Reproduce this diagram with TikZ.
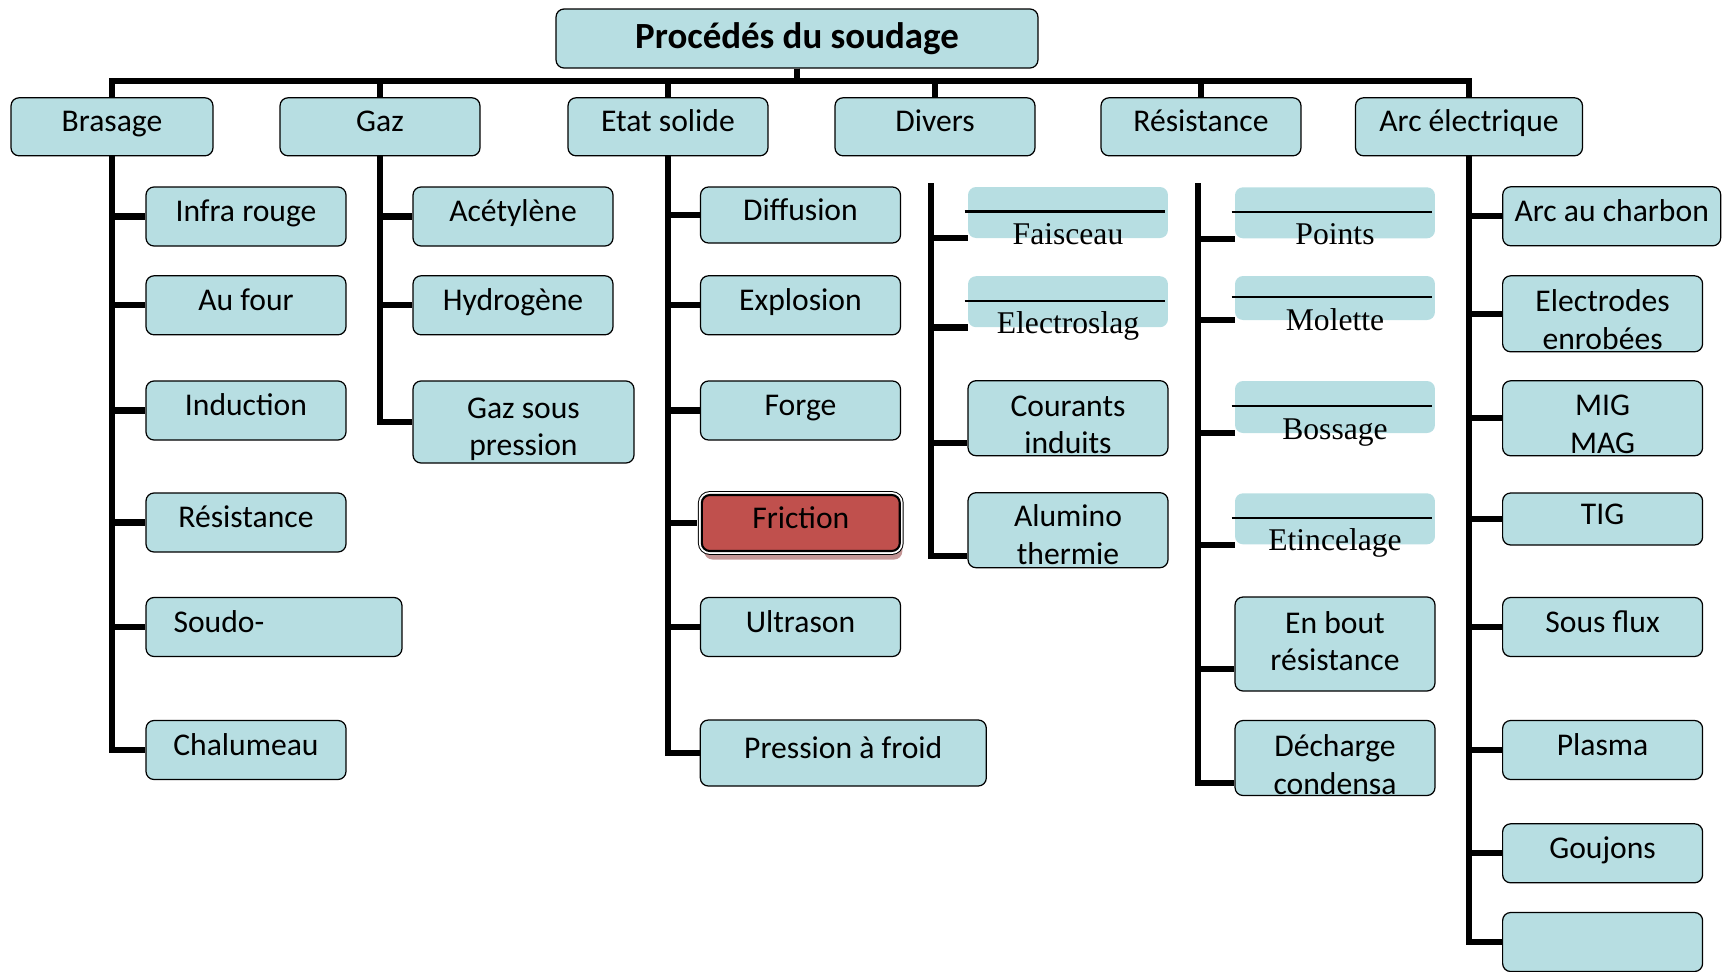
\documentclass[tikz,border=0pt]{standalone}
\usepackage{fontspec}
\setmainfont{Carlito}
\newfontfamily\tnr{Liberation Serif}
\usetikzlibrary{calc,shadows}
\definecolor{boxfill}{RGB}{183,222,226}
\definecolor{fricfill}{RGB}{192,80,77}
\definecolor{fricshadow}{RGB}{196,150,150}
\tikzset{
  box/.style={draw=black, line width=0.7pt, fill=boxfill, rounded corners=0.16cm,
    inner sep=0pt, minimum width=4cm, minimum height=1.18cm,
    text height=0.5cm, text depth=0.3cm, font=\fontsize{18}{21.5}\selectfont},
  titlebox/.style={box, minimum width=9.64cm, text height=0.6cm, text depth=0.2cm,
    font=\bfseries\fontsize{21}{25}\selectfont},
  bare/.style={fill=boxfill, rounded corners=0.16cm, inner sep=0pt, minimum width=4cm},
  rule/.style={line width=1.3pt},
  serif/.style={font=\tnr\fontsize{18}{21.5}\selectfont, inner sep=0pt},
  conn/.style={line width=3.5pt},
  fric/.style={box, fill=fricfill, line width=1.2pt,
    drop shadow={shadow xshift=0.05cm, shadow yshift=-0.17cm, fill=fricshadow, opacity=1},
    preaction={draw=black, line width=4.4pt},
    preaction={draw=white, line width=3.3pt}}
}
\newcommand{\deux}[3][0.16cm]{\raisebox{#1}[0pt][0pt]{\begin{tabular}[t]{@{}c@{}}#2\\#3\end{tabular}}}
\newcommand{\barebox}[5]{%
  \node[bare, minimum height=#4*0.02cm] (#1) at (#2,#3) {};
  \draw[rule] ([xshift=-0.06cm,yshift=0.02cm]#1.west) -- ([xshift=-0.06cm,yshift=0.02cm]#1.east);
  \node[serif, anchor=base] (#1t) at ([yshift=-0.64cm]#1.center) {#5};}

\begin{document}
\begin{tikzpicture}[x=0.02cm, y=-0.02cm]
    \useasboundingbox (0,0) rectangle (1722,971);
    \clip (0,0) rectangle (1722,971);
    % title
    \node[titlebox] (titre) at (797,38.5) {Procédés du soudage};
    \coordinate (bar) at (797,81);
    % level 1
    \node[box, minimum width=4.04cm, minimum height=1.16cm] (bras) at (112,126.8) {Brasage};
    \node[box, minimum height=1.16cm] (gaz) at (380,126.8) {Gaz};
    \node[box, minimum height=1.16cm] (etat) at (668,126.8) {Etat solide};
    \node[box, minimum height=1.16cm] (div) at (935,126.8) {Divers};
    \node[box, minimum height=1.16cm] (resi) at (1201,126.8) {Résistance};
    \node[box, minimum width=4.54cm, minimum height=1.16cm] (arc) at (1469,126.8) {Arc électrique};
    \foreach \n in {bras,gaz,etat,div,resi,arc}
        \draw[conn] (titre.south) -- (bar) -| (\n.north);
    % Brasage
    \node[box] (ir) at (246,216.5) {Infra rouge};
    \node[box] (four) at (246,305.3) {Au four};
    \node[box] (ind) at (246,410.5) {Induction};
    \node[box] (resb) at (246,522.5) {Résistance};
    \node[box, minimum width=5.12cm, text width=4.02cm, inner xsep=0.55cm, align=left] (soudo) at (274,627) {Soudo-};
    \node[box] (chal) at (246,750) {Chalumeau};
    \foreach \n in {ir,four,ind,resb,soudo,chal}
        \draw[conn] (bras.south) |- (\n.west);
    % Gaz
    \node[box] (acet) at (513,216.5) {Acétylène};
    \node[box] (hydr) at (513,305.3) {Hydrogène};
    \node[box, minimum width=4.42cm, minimum height=1.64cm] (gsp) at (523.5,422) {\deux[0.18cm]{Gaz sous}{pression}};
    \foreach \n in {acet,hydr,gsp}
        \draw[conn] (gaz.south) |- (\n.west);
    % Etat solide
    \node[box, minimum height=1.12cm] (diff) at (800.5,215) {Diffusion};
    \node[box] (expl) at (800.5,305.3) {Explosion};
    \node[box] (forge) at (800.5,410.5) {Forge};
    \node[fric, minimum width=3.96cm, minimum height=1.12cm] (fric) at (800.8,523) {Friction};
    \node[box] (ultra) at (800.5,627) {Ultrason};
    \node[box, minimum width=5.72cm, minimum height=1.32cm] (pres) at (843.3,753) {Pression à froid};
    \foreach \n in {diff,expl,forge,ultra,pres}
        \draw[conn] (etat.south) |- (\n.west);
    \draw[conn] (etat.south) |- ([xshift=-0.08cm]fric.west);
    % Divers
    \coordinate (divtop) at (931,183);
    \barebox{fai}{1068}{212.5}{51}{Faisceau}
    \barebox{elec}{1068}{301.7}{51}{Electroslag}
    \node[box, minimum height=1.5cm] (cour) at (1068,418.2) {\deux[0.14cm]{Courants}{induits}};
    \node[box, minimum height=1.5cm] (alu) at (1068,530.2) {\deux[0.17cm]{Alumino}{thermie}};
    \draw[conn] (divtop) |- (fai.south west);
    \draw[conn] (divtop) |- (elec.south west);
    \draw[conn] (divtop) |- ([yshift=0.26cm]cour.south west);
    \draw[conn] (divtop) |- ([yshift=0.25cm]alu.south west);
    % Resistance
    \coordinate (restop) at (1198,183);
    \barebox{pts}{1335}{212.8}{51}{Points}
    \barebox{mol}{1335}{298}{44}{Molette}
    \barebox{bos}{1335}{407}{52}{Bossage}
    \barebox{etc}{1335}{518.8}{51}{Etincelage}
    \node[box, minimum height=1.88cm] (enb) at (1335,644) {\deux[0.32cm]{En bout}{résistance}};
    \node[box, minimum height=1.5cm] (dech) at (1335,758) {\deux[0.13cm]{Décharge}{condensa}};
    \foreach \n in {pts,mol,bos,etc}
        \draw[conn] (restop) |- (\n.south west);
    \draw[conn] (restop) |- ([yshift=0.46cm]enb.south west);
    \draw[conn] (restop) |- ([yshift=0.26cm]dech.south west);
    % Arc electrique
    \node[box, minimum width=4.36cm] (carb) at (1611.7,216.3) {Arc au charbon};
    \node[box, minimum height=1.52cm] (elc) at (1602.6,313.8) {\deux[0.14cm]{Electrodes}{enrobées}};
    \node[box, minimum height=1.5cm] (mig) at (1602.6,418.3) {\deux[0.16cm]{MIG}{MAG}};
    \node[box, minimum height=1.04cm] (tig) at (1602.6,519) {TIG};
    \node[box] (sflx) at (1602.6,627) {Sous flux};
    \node[box] (plas) at (1602.6,750) {Plasma};
    \node[box] (gouj) at (1602.6,853.3) {Goujons};
    \node[box] (vide) at (1602.6,942) {};
    \foreach \n in {carb,elc,mig,tig,sflx,plas,gouj,vide}
        \draw[conn] (arc.south) |- (\n.west);
\end{tikzpicture}
\end{document}
